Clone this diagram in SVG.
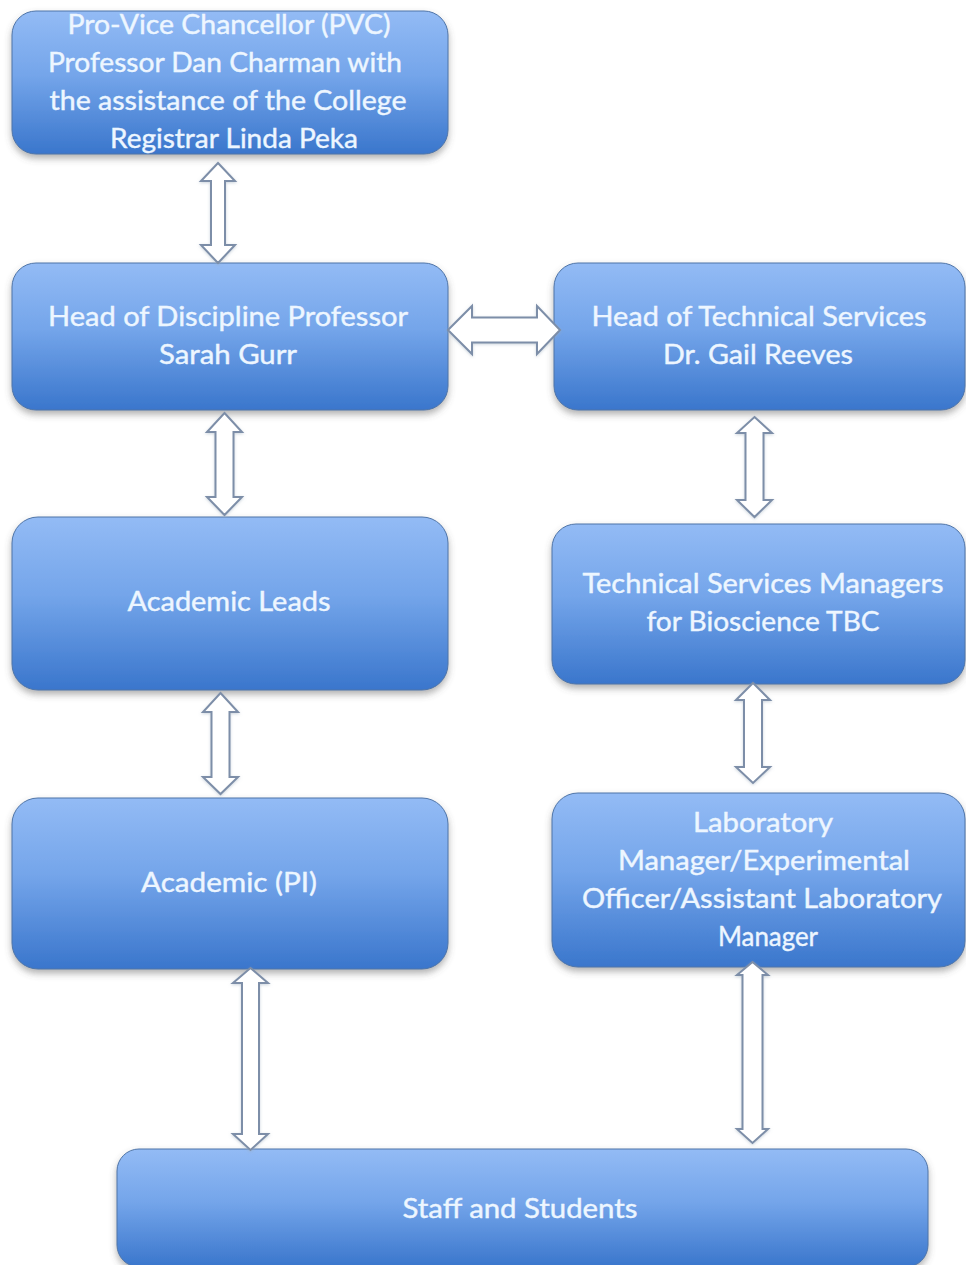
<svg xmlns="http://www.w3.org/2000/svg" width="966" height="1265" viewBox="0 0 966 1265">
<defs>
<linearGradient id="boxg" x1="0" y1="0" x2="0" y2="1">
<stop offset="0" stop-color="#93bbf5"/>
<stop offset="0.45" stop-color="#74a5ea"/>
<stop offset="1" stop-color="#3a76cc"/>
</linearGradient>
<filter id="sh" x="-10%" y="-10%" width="120%" height="130%">
<feDropShadow dx="0" dy="4" stdDeviation="3.5" flood-color="#555" flood-opacity="0.45"/>
</filter>
<filter id="ash" x="-30%" y="-10%" width="160%" height="120%">
<feDropShadow dx="0" dy="1" stdDeviation="1.5" flood-color="#9ab" flood-opacity="0.5"/>
</filter>
</defs>
<style>
.box{fill:url(#boxg);stroke:#4f75a8;stroke-width:1;filter:url(#sh)}
.t{font-family:Lato,"Open Sans","Liberation Sans",sans-serif;font-size:26px;fill:#edf6ff;stroke:#edf6ff;stroke-width:0.4;text-anchor:middle}
.arr{fill:#ffffff;stroke:#7d8ea8;stroke-width:2;stroke-linejoin:miter;filter:url(#ash)}
</style>
<rect width="966" height="1265" fill="#ffffff"/>

<g id="node-pvc">
<rect class="box" x="12" y="11" width="436" height="143" rx="24"/>
<text class="t" x="229" y="34" textLength="323" lengthAdjust="spacingAndGlyphs">Pro-Vice Chancellor (PVC)</text>
<text class="t" x="225" y="72" textLength="354" lengthAdjust="spacingAndGlyphs">Professor Dan Charman with</text>
<text class="t" x="228" y="110" textLength="357" lengthAdjust="spacingAndGlyphs">the assistance of the College</text>
<text class="t" x="234" y="148" textLength="248" lengthAdjust="spacingAndGlyphs">Registrar Linda Peka</text>
</g>

<g id="node-hod">
<rect class="box" x="12" y="263" width="436" height="147" rx="24"/>
<text class="t" x="228" y="326" textLength="360" lengthAdjust="spacingAndGlyphs">Head of Discipline Professor</text>
<text class="t" x="228" y="364" textLength="138" lengthAdjust="spacingAndGlyphs">Sarah Gurr</text>
</g>

<g id="node-hot">
<rect class="box" x="554" y="263" width="411" height="147" rx="24"/>
<text class="t" x="759" y="326" textLength="335" lengthAdjust="spacingAndGlyphs">Head of Technical Services</text>
<text class="t" x="758" y="364" textLength="190" lengthAdjust="spacingAndGlyphs">Dr. Gail Reeves</text>
</g>

<g id="node-al">
<rect class="box" x="12" y="517" width="436" height="173" rx="26"/>
<text class="t" x="229" y="611" textLength="203" lengthAdjust="spacingAndGlyphs">Academic Leads</text>
</g>

<g id="node-tsm">
<rect class="box" x="552" y="524" width="413" height="160" rx="24"/>
<text class="t" x="763" y="593" textLength="361" lengthAdjust="spacingAndGlyphs">Technical Services Managers</text>
<text class="t" x="763" y="631" textLength="233" lengthAdjust="spacingAndGlyphs">for Bioscience TBC</text>
</g>

<g id="node-pi">
<rect class="box" x="12" y="798" width="436" height="171" rx="26"/>
<text class="t" x="229" y="892" textLength="176" lengthAdjust="spacingAndGlyphs">Academic (PI)</text>
</g>

<g id="node-lab">
<rect class="box" x="552" y="793" width="413" height="174" rx="26"/>
<text class="t" x="763" y="832" textLength="140" lengthAdjust="spacingAndGlyphs">Laboratory</text>
<text class="t" x="764" y="870" textLength="292" lengthAdjust="spacingAndGlyphs">Manager/Experimental</text>
<text class="t" x="762" y="908" textLength="360" lengthAdjust="spacingAndGlyphs">Officer/Assistant Laboratory</text>
<text class="t" x="768" y="946" textLength="100" lengthAdjust="spacingAndGlyphs">Manager</text>
</g>

<g id="node-staff">
<rect class="box" x="117" y="1149" width="811" height="118" rx="22"/>
<text class="t" x="520" y="1218" textLength="235" lengthAdjust="spacingAndGlyphs">Staff and Students</text>
</g>

<g id="connectors">
<polygon class="arr" points="218,163 235,181 225,181 225,245 235,245 218,263 201,245 211,245 211,181 201,181"/>
<polygon class="arr" points="448,330 472,306 472,317.5 537,317.5 537,306 560,330 537,354 537,342.5 472,342.5 472,354"/>
<polygon class="arr" points="224.5,413 242,432 233.5,432 233.5,497 242,497 224.5,515 207,497 215.5,497 215.5,432 207,432"/>
<polygon class="arr" points="754.5,417 772,433 763.5,433 763.5,500 772,500 754.5,517 737,500 745.5,500 745.5,433 737,433"/>
<polygon class="arr" points="220.5,693 238,712 229.5,712 229.5,777 238,777 220.5,794 203,777 211.5,777 211.5,712 203,712"/>
<polygon class="arr" points="753,683 770,700 762,700 762,767 770,767 753,783 736,767 744,767 744,700 736,700"/>
<polygon class="arr" points="250.5,968 268,983 259,983 259,1134 268,1134 250.5,1150 233,1134 242,1134 242,983 233,983"/>
<polygon class="arr" points="752.5,962 768,975 762.5,975 762.5,1129 768,1129 752.5,1143 737,1129 742.5,1129 742.5,975 737,975"/>
</g>
</svg>
